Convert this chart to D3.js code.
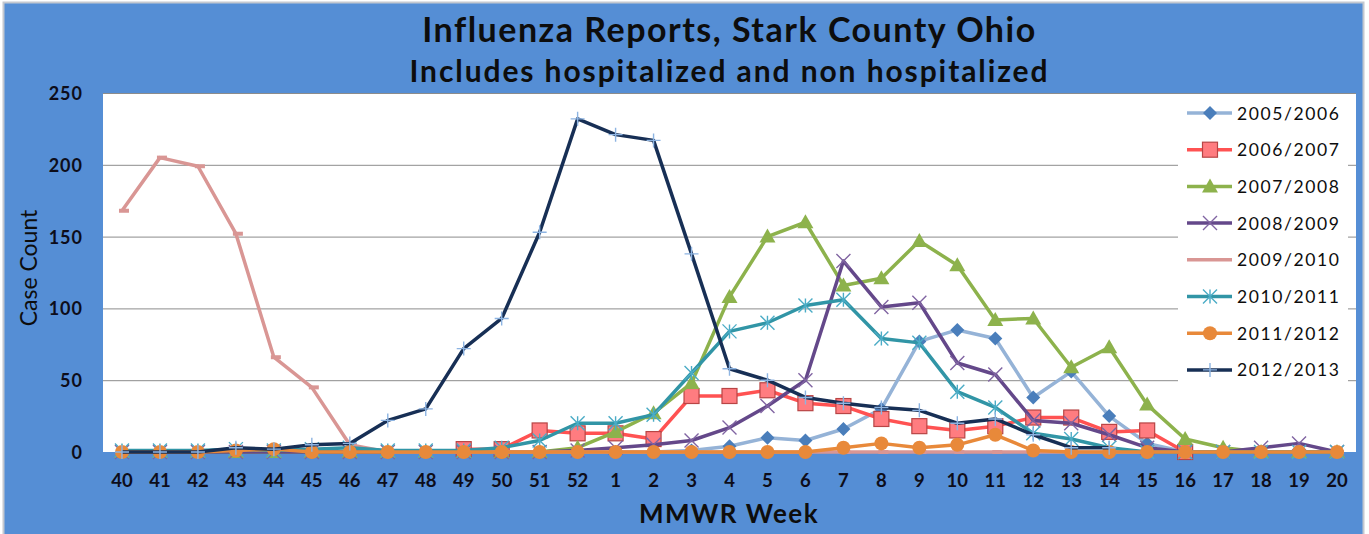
<!DOCTYPE html>
<html>
<head>
<meta charset="utf-8">
<script src="https://cdn.jsdelivr.net/npm/d3@7"></script>
<style>
  body { margin: 0; background: #ffffff; }
  text { font-family: Lato, "Open Sans", sans-serif; }
</style>
</head>
<body>
<div id="vis-container"></div>
<script>
// MMWR weeks, season runs week 40 to week 20
var weeks = ["40","41","42","43","44","45","46","47","48","49","50","51","52",
             "1","2","3","4","5","6","7","8","9","10","11","12","13","14","15","16","17","18","19","20"];
var yTicks = [0, 50, 100, 150, 200, 250];

var seasons = ["2005/2006","2006/2007","2007/2008","2008/2009","2009/2010","2010/2011","2011/2012","2012/2013"];

//               40   41   42   43   44   45   46   47   48   49   50   51   52    1    2    3    4    5    6    7    8    9   10   11   12   13   14   15   16   17   18   19   20
var s2005 = [null,null,null,null,null,null,null,null,null,null,null,null,null,   0,   0,   1,   4,  10,   8,  16,  30,  77,  85,  79,  38,  56,  25,   6,   0,null,null,null,null];
var s2006 = [null,null,null,null,null,null,null,null,null,   2,   2,  15,  13,  13,   9,  39,  39,  43,  34,  32,  23,  18,  15,  18,  24,  24,  14,  15,   0,null,null,null,null];
var s2007 = [   0,   0,   0,   0,   0,   0,   0,   0,   0,   0,   0,   0,   3,  14,  27,  48, 108, 150, 160, 116, 121, 147, 130,  92,  93,  59,  73,  33,   9,   3,   0,   0,   0];
var s2008 = [   0,   0,   0,   0,   0,   0,   0,   0,   0,   0,   0,   0,   1,   3,   5,   8,  17,  32,  50, 133, 101, 104,  62,  54,  22,  20,  12,   3,   0,   0,   3,   6,   0];
var s2009 = [ 168, 205, 199, 152,  66,  45,   5,   0,   0,   0,   0,   0,   0,   0,   0,   0,   0,   0,   0,   0,   0,   0,   0,   0,   0,   0,   0,   0,   0,   0,   0,   0,   0];
var s2010 = [   1,   1,   1,   2,   1,   2,   3,   1,   1,   1,   3,   8,  20,  20,  26,  55,  84,  90, 102, 106,  79,  76,  42,  31,  13,   9,   3,   0,   0,   0,   0,   0,   0];
var s2011 = [   0,   0,   0,   1,   2,   0,   0,   0,   0,   0,   0,   0,   0,   0,   0,   0,   0,   0,   0,   3,   6,   3,   5,  12,   1,   0,   0,   0,   0,   0,   0,   0,   0];
var s2012 = [   0,   0,   0,   3,   2,   5,   6,  22,  30,  72,  93, 153, 232, 221, 217, 138,  58,  50,  38,  34,  31,  29,  20,  23,  12,   3,   3,null,null,null,null,null,null];

var seriesValues = [s2005, s2006, s2007, s2008, s2009, s2010, s2011, s2012];

// look of each season: line colour, marker kind, marker colours
var styles = [
  {line: "#95b3d7", marker: "diamond",  fill: "#4a7ebb", stroke: "none"},
  {line: "#ff5252", marker: "square",   fill: "#ff7c80", stroke: "#b84545"},
  {line: "#8db24c", marker: "triangle", fill: "#8db24c", stroke: "none"},
  {line: "#64488a", marker: "x",        fill: "none",    stroke: "#8064a2"},
  {line: "#d99694", marker: "dash",     fill: "#d99694", stroke: "none"},
  {line: "#3195a6", marker: "star",     fill: "none",    stroke: "#4bacc6"},
  {line: "#e8893a", marker: "circle",   fill: "#e8893a", stroke: "none"},
  {line: "#172f55", marker: "plus",     fill: "none",    stroke: "#8db4e2"}
];

var width = 1369;
var height = 534;

// plot area
var plotLeft = 103, plotRight = 1356, plotTop = 93, plotBottom = 452;

var svg = d3.select("#vis-container")
  .append("svg")
  .attr("width", width)
  .attr("height", height);

// blue chart background with thin grey frame
svg.append("rect")
  .attr("x", 3.5).attr("y", 2.5)
  .attr("width", 1360).attr("height", 540)
  .attr("fill", "#558ed5")
  .attr("stroke", "#c4c8cf")
  .attr("stroke-width", 2);

var x = d3.scaleBand().domain(weeks).range([plotLeft, plotRight]).padding(0);
var y = d3.scaleLinear().domain([0, 250]).range([plotBottom, plotTop]);

svg.append("rect")
  .attr("x", plotLeft).attr("y", plotTop)
  .attr("width", plotRight - plotLeft).attr("height", plotBottom - plotTop)
  .attr("fill", "#ffffff");

// gridlines
var grid = svg.append("g")
  .attr("transform", "translate(" + plotLeft + ",0)")
  .call(d3.axisLeft(y).tickValues(yTicks.slice(1)).tickSize(-(plotRight - plotLeft)).tickFormat(""));
grid.select(".domain").remove();
grid.selectAll("line").attr("stroke", "#8c8c8c").attr("stroke-width", 1);

// y axis labels
var yaxis = svg.append("g")
  .attr("transform", "translate(" + (plotLeft - 20) + ",0)")
  .call(d3.axisLeft(y).tickValues(yTicks).tickSize(0).tickPadding(0));
yaxis.select(".domain").remove();
yaxis.selectAll("text")
  .attr("font-family", "Lato")
  .attr("font-size", 18)
  .attr("font-weight", "bold")
  .attr("letter-spacing", "1px")
  .attr("fill", "#0d0d1a")
  .attr("dy", "0.36em");

// x axis labels
var xaxis = svg.append("g")
  .attr("transform", "translate(0," + (plotBottom + 22) + ")")
  .call(d3.axisBottom(x).tickSize(0).tickPadding(0));
xaxis.select(".domain").remove();
xaxis.selectAll("text")
  .attr("font-family", "Lato")
  .attr("font-size", 18.5)
  .attr("font-weight", "bold")
  .attr("fill", "#0d0d1a")
  .attr("dy", "0.72em");

// marker drawing
function drawMarker(g, kind, st, size) {
  var h = size / 2;
  if (kind === "diamond") {
    g.append("path").attr("d", "M0," + (-h) + "L" + h + ",0L0," + h + "L" + (-h) + ",0Z")
      .attr("fill", st.fill);
  } else if (kind === "square") {
    g.append("rect").attr("x", -h).attr("y", -h).attr("width", size).attr("height", size)
      .attr("fill", st.fill).attr("stroke", st.stroke).attr("stroke-width", 1.2);
  } else if (kind === "triangle") {
    g.append("path").attr("d", "M0," + (-h - 1) + "L" + (h + 1) + "," + (h - 1) + "L" + (-h - 1) + "," + (h - 1) + "Z")
      .attr("fill", st.fill);
  } else if (kind === "circle") {
    g.append("circle").attr("r", h).attr("fill", st.fill);
  } else if (kind === "dash") {
    g.append("rect").attr("x", -3).attr("y", -2).attr("width", 10).attr("height", 4)
      .attr("fill", st.fill);
  } else {
    var d = "";
    if (kind === "x" || kind === "star") {
      d += "M" + (-h) + "," + (-h) + "L" + h + "," + h + "M" + (-h) + "," + h + "L" + h + "," + (-h);
    }
    if (kind === "plus" || kind === "star") {
      d += "M0," + (-h) + "L0," + h;
    }
    if (kind === "plus") {
      d += "M" + (-h) + ",0L" + h + ",0";
    }
    g.append("path").attr("d", d).attr("fill", "none")
      .attr("stroke", st.stroke).attr("stroke-width", 1.4);
  }
}

var markerSize = {diamond: 14, square: 15, triangle: 14, x: 14, dash: 10, star: 14, circle: 14, plus: 14};

var line = d3.line()
  .defined(function(d) { return d.v !== null; })
  .x(function(d) { return x(d.w) + x.bandwidth() / 2; })
  .y(function(d) { return y(d.v); });

// one group per season, later seasons on top
for (var s = 0; s < seasons.length; ++s) {
  var pts = weeks.map(function(w, i) { return {w: w, v: seriesValues[s][i]}; });
  var st = styles[s];
  var g = svg.append("g");
  g.append("path")
    .attr("d", line(pts))
    .attr("fill", "none")
    .attr("stroke", st.line)
    .attr("stroke-width", 3.5)
    .attr("stroke-linejoin", "round");
  pts.filter(function(d) { return d.v !== null; }).forEach(function(d) {
    var m = g.append("g")
      .attr("transform", "translate(" + (x(d.w) + x.bandwidth() / 2) + "," + y(d.v) + ")");
    drawMarker(m, st.marker, st, markerSize[st.marker]);
  });
}

// legend box
var legend = svg.append("g");
legend.append("rect")
  .attr("x", 1178).attr("y", 95)
  .attr("width", 170).attr("height", 297)
  .attr("fill", "#ffffff");

for (var i = 0; i < seasons.length; ++i) {
  var ly = 113 + i * 36.7;
  var item = legend.append("g");
  item.append("line")
    .attr("x1", 1187).attr("x2", 1232)
    .attr("y1", ly).attr("y2", ly)
    .attr("stroke", styles[i].line)
    .attr("stroke-width", 3.5);
  if (styles[i].marker !== "dash") {
    var lm = item.append("g").attr("transform", "translate(1210," + ly + ")");
    drawMarker(lm, styles[i].marker, styles[i], markerSize[styles[i].marker]);
  }
  item.append("text")
    .attr("x", 1237)
    .attr("y", ly + 6.5)
    .attr("font-family", "Lato")
    .attr("font-size", 17.5)
    .attr("letter-spacing", "1.6px")
    .attr("fill", "#0d0d0d")
    .text(seasons[i]);
}

// titles
var cx = (plotLeft + plotRight) / 2;
svg.append("text")
  .attr("x", cx).attr("y", 42)
  .attr("text-anchor", "middle")
  .attr("font-family", "Lato")
  .attr("font-size", 34)
  .attr("font-weight", "bold")
  .attr("letter-spacing", "1.5px")
  .attr("fill", "#0d0d0d")
  .text("Influenza Reports, Stark County Ohio");

svg.append("text")
  .attr("x", cx).attr("y", 82)
  .attr("text-anchor", "middle")
  .attr("font-family", "Lato")
  .attr("font-size", 30)
  .attr("font-weight", "bold")
  .attr("letter-spacing", "1.9px")
  .attr("fill", "#0d0d0d")
  .text("Includes hospitalized and non hospitalized");

svg.append("text")
  .attr("x", 729).attr("y", 523)
  .attr("text-anchor", "middle")
  .attr("font-family", "Lato")
  .attr("font-size", 26)
  .attr("font-weight", "bold")
  .attr("letter-spacing", "1.5px")
  .attr("fill", "#0d0d0d")
  .text("MMWR Week");

svg.append("text")
  .attr("transform", "translate(37,268) rotate(-90)")
  .attr("text-anchor", "middle")
  .attr("font-family", "Lato")
  .attr("font-size", 23)
  .attr("fill", "#0d0d0d")
  .text("Case Count");
</script>
</body>
</html>
